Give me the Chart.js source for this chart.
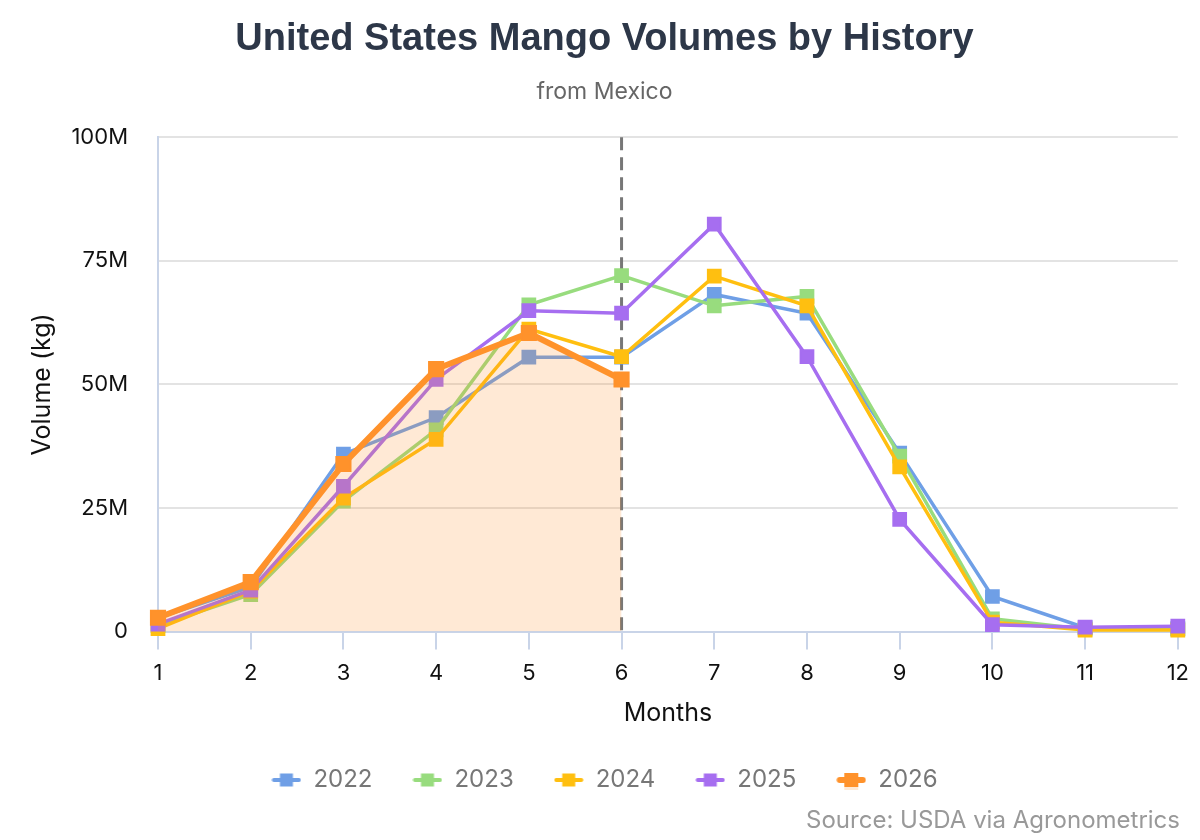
<!DOCTYPE html>
<html>
<head>
<meta charset="utf-8">
<script src="https://cdn.jsdelivr.net/npm/chart.js@4.4.1/dist/chart.umd.min.js"></script>
<style>
  html, body { margin: 0; padding: 0; background: #ffffff; }
  #wrap { width: 1200px; height: 840px; }
</style>
</head>
<body>
<div id="wrap"><canvas id="c" width="1200" height="840"></canvas></div>
<script>
const months = ['1','2','3','4','5','6','7','8','9','10','11','12'];
const v2022 = [2.8, 9.0, 35.9, 43.3, 55.5, 55.5, 68.2, 64.4, 36.1, 7.1, 0.8, 0.6];
const v2023 = [1.2, 7.5, 26.4, 40.8, 66.1, 72.0, 65.9, 67.8, 35.5, 2.6, 0.5, 0.5];
const v2024 = [0.6, 8.2, 27.0, 38.9, 61.2, 55.6, 71.9, 65.9, 33.3, 1.9, 0.3, 0.3];
const v2025 = [1.5, 8.4, 29.4, 51.0, 64.9, 64.4, 82.4, 55.6, 22.7, 1.4, 0.9, 1.1];
const v2026 = [2.8, 10.0, 33.9, 53.1, 60.4, 51.0];
const yTicks = [0, 25, 50, 75, 100];
const seriesNames = ['2022', '2023', '2024', '2025', '2026'];
const currentMonth = '6';
const M = 1e6;

const colors = ['#6f9fe6', '#98dc7e', '#ffbf10', '#a66ef0', '#ff922b'];
const UI = 'Inter, "Liberation Sans", Arial, sans-serif';

function legendIcon(color, thick, fill) {
  const c = document.createElement('canvas');
  c.width = 30; c.height = 24;
  const g = c.getContext('2d');
  if (fill) {
    g.fillStyle = 'rgba(255,146,43,0.2)';
    g.fillRect(8, 12, 14, 10);
  }
  g.strokeStyle = color;
  g.lineCap = 'round';
  g.lineWidth = thick;
  g.beginPath(); g.moveTo(thick / 2 + 0.5, 12); g.lineTo(29.5 - thick / 2, 12); g.stroke();
  g.fillStyle = color;
  const s = fill ? 14 : 13;
  g.fillRect(15 - s / 2, 12 - s / 2, s, s);
  return c;
}

const allVals = [v2022, v2023, v2024, v2025, v2026];
const datasets = seriesNames.map((name, i) => {
  const isCur = i === 4;
  return {
    label: name,
    data: allVals[i].map(v => v * M),
    borderColor: colors[i],
    backgroundColor: isCur ? 'rgba(255,146,43,0.2)' : colors[i],
    fill: isCur ? 'origin' : false,
    borderWidth: isCur ? 6 : 3.5,
    pointStyle: 'rect',
    pointRadius: isCur ? 10 : 9,
    pointBackgroundColor: colors[i],
    pointBorderColor: colors[i],
    pointBorderWidth: 2,
    tension: 0,
    order: 5 - i,
    clip: false,
    _icon: legendIcon(colors[i], isCur ? 6 : 4, isCur)
  };
});

const extras = {
  id: 'extras',
  beforeDatasetsDraw(chart) {
    const ctx = chart.ctx;
    const x = chart.scales.x.getPixelForValue(months.indexOf(currentMonth));
    const a = chart.chartArea;
    ctx.save();
    ctx.strokeStyle = '#777777';
    ctx.lineWidth = 3;
    ctx.setLineDash([13, 7]);
    ctx.beginPath();
    ctx.moveTo(x, a.top);
    ctx.lineTo(x, a.bottom);
    ctx.stroke();
    ctx.restore();
  },
  afterDraw(chart) {
    const ctx = chart.ctx;
    ctx.save();
    ctx.font = '24px ' + UI;
    ctx.fillStyle = '#999999';
    ctx.textAlign = 'right';
    ctx.textBaseline = 'middle';
    ctx.fillText('Source: USDA via Agronometrics', 1180, 821);
    ctx.restore();
  }
};

new Chart(document.getElementById('c'), {
  type: 'line',
  data: { labels: months, datasets },
  plugins: [extras],
  options: {
    responsive: false,
    animation: false,
    layout: { padding: { left: 27, right: 18, top: 0, bottom: 38 } },
    plugins: {
      title: {
        display: true,
        text: 'United States Mango Volumes by History',
        color: '#2d3748',
        font: { family: '"Liberation Sans", Arial, sans-serif', size: 38, weight: 'bold' },
        padding: { top: 17, bottom: 6 }
      },
      subtitle: {
        display: true,
        text: 'from Mexico',
        color: '#666666',
        font: { family: UI, size: 23 },
        padding: { top: 10, bottom: 31 }
      },
      legend: {
        position: 'bottom',
        labels: {
          usePointStyle: true,
          pointStyleWidth: 30,
          color: '#777777',
          font: { family: UI, size: 24 },
          padding: 40,
          sort: (a, b) => a.datasetIndex - b.datasetIndex,
          generateLabels(chart) {
            return chart.data.datasets.map((d, i) => ({
              text: d.label,
              fillStyle: d.borderColor,
              strokeStyle: d.borderColor,
              pointStyle: d._icon,
              fontColor: '#777777',
              hidden: false,
              datasetIndex: i,
              lineWidth: 0
            }));
          }
        }
      },
      tooltip: { enabled: false }
    },
    scales: {
      x: {
        title: {
          display: true, text: 'Months', color: '#111111',
          font: { family: UI, size: 25 },
          padding: { top: 0, bottom: 0 }
        },
        ticks: { color: '#111111', font: { family: UI, size: 22 }, padding: 11 },
        grid: { display: true, drawOnChartArea: false, drawTicks: true, tickLength: 18, color: '#c9d4e8', lineWidth: 2 },
        border: { display: true, color: '#c9d4e8', width: 2 }
      },
      y: {
        min: 0, max: 100 * M,
        afterBuildTicks(scale) { scale.ticks = yTicks.map(v => ({ value: v * M })); },
        afterFit(scale) { scale.width = 131; },
        title: {
          display: true, text: 'Volume (kg)', color: '#111111',
          font: { family: UI, size: 25 },
          padding: { top: 0, bottom: 11 }
        },
        ticks: {
          color: '#111111',
          font: { family: UI, size: 22 },
          padding: 30,
          callback: v => v === 0 ? '0' : (v / M) + 'M'
        },
        grid: { color: '#e3e3e3', lineWidth: 2, drawTicks: false },
        border: { display: true, color: '#c9d4e8', width: 2 }
      }
    }
  }
});
</script>
</body>
</html>
